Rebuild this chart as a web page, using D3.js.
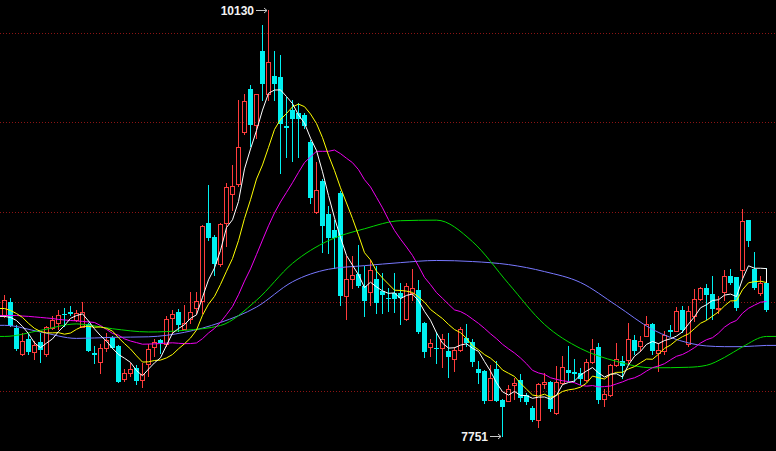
<!DOCTYPE html>
<html><head><meta charset="utf-8">
<script src="https://cdn.jsdelivr.net/npm/d3@7/dist/d3.min.js"></script>
<style>html,body{margin:0;padding:0;background:#000;overflow:hidden}svg{display:block}</style>
</head><body><svg id="c" width="776" height="451"></svg>
<script>
// ---- data ----
const opens  = [8423,8501,8355,8206,8293,8219,8275,8206,8351,8383,8433,8445,8397,8360,8377,8212,8163,8243,8299,8252,
8071,8104,8132,8063,8150,8249,8284,8262,8410,8445,8349,8405,8466,8503,8939,8861,8713,8939,9102,9158,
9446,9685,9486,9898,9657,9759,9752,9481,9570,9553,9542,9393,9000,9171,8991,8902,9109,8531,8629,8657,
8586,8555,8627,8562,8522,8550,8546,8405,8550,8564,8379,8249,8241,8243,8224,8182,8228,8299,8275,8123,
8113,7952,8127,7950,7946,8034,8061,7978,7904,7840,8043,8054,7878,8048,8117,8107,8102,8063,8163,8249,
7956,7978,8145,8169,8174,8286,8252,8308,8376,8212,8224,8340,8336,8456,8262,8419,8516,8577,8544,8460,
8553,8642,8638,8679,8954,8683,8550,8605];
const highs  = [8535,8518,8368,8323,8317,8280,8328,8364,8419,8456,8466,8475,8456,8497,8383,8252,8262,8327,8306,8256,
8127,8160,8145,8156,8262,8290,8290,8419,8456,8460,8484,8553,8553,8930,9152,8874,8941,9162,9264,9625,
9657,9709,9660,10043,10130,9900,9876,9644,9625,9607,9551,9403,9282,9184,9032,8958,9115,8757,8753,8818,
8698,8735,8698,8661,8579,8661,8605,8605,8683,8620,8384,8293,8330,8317,8323,8249,8358,8373,8290,8169,
8117,8145,8169,7956,8034,8076,8095,7993,7918,8045,8104,8056,8141,8197,8252,8178,8132,8178,8290,8271,
8011,8150,8271,8197,8383,8312,8308,8419,8383,8271,8336,8368,8473,8475,8475,8572,8583,8596,8646,8531,
8679,8683,8640,9017,8958,8776,8642,8689];
const lows   = [8412,8362,8228,8200,8206,8178,8162,8197,8345,8345,8364,8423,8391,8356,8223,8160,8104,8224,8239,8050,
8058,8085,8039,8026,8085,8197,8216,8252,8327,8336,8345,8383,8438,8438,8846,8651,8698,8813,9013,9147,
9436,9369,9414,9625,9625,9625,9219,9308,9286,9308,9470,9050,8995,8776,8772,8689,8484,8401,8577,8584,
8419,8484,8438,8438,8447,8442,8373,8400,8512,8328,8193,8197,8160,8138,8082,8113,8226,8252,8141,8045,
7933,7950,7944,7751,7944,7956,7946,7928,7835,7798,8017,7890,7872,8039,8058,8058,8039,8058,8160,7937,
7918,7972,8139,8076,8160,8206,8224,8306,8206,8113,8206,8308,8334,8329,8252,8391,8512,8401,8401,8438,
8512,8601,8456,8640,8809,8568,8535,8447];
const closes = [8512,8364,8234,8278,8219,8256,8230,8360,8397,8423,8425,8430,8438,8444,8224,8204,8243,8284,8243,8052,
8100,8127,8058,8095,8238,8277,8267,8405,8434,8369,8383,8444,8503,8924,8856,8713,8934,9140,9143,9366,
9622,9488,9657,9713,9835,9713,9492,9471,9517,9517,9481,9078,9125,8924,8856,8856,8531,8624,8651,8586,
8503,8679,8494,8540,8516,8516,8518,8586,8577,8330,8219,8271,8234,8290,8191,8228,8345,8271,8165,8104,
7946,8076,7946,7915,8011,8048,7965,7941,7839,8043,8054,7900,8054,8135,8102,8096,8067,8165,8234,7950,
7983,8145,8178,8141,8290,8224,8280,8373,8223,8228,8312,8329,8449,8340,8447,8516,8577,8535,8460,8466,
8646,8605,8466,8948,8837,8577,8605,8456];

// moving-average values at the left edge (their windows start before the visible range)
const ma5Head  = [8418,8412,8395,8362];
const ma10Head = [8462,8451,8434,8412,8379,8351,8334,8326,8326];
const ma20Head = [8423,8423,8423,8420,8418,8415,8412,8409,8406,8401,8398,8395,8393,8390,8387,8384,8367,8345,8323];
const ma5Tail  = 8605;

// long moving averages at these bars
const longIdx = [0,6,12,18,24,30,36,42,48,54,60,66,72,78,84,90,96,102,108,114,117,120,123,127];
const ma60    = [8306,8340,8376,8349,8331,8340,8367,8508,8714,8841,8907,8952,8955,8835,8601,8373,8239,8167,8131,8134,8145,8189,8248,8306];
const ma120   = [8368,8331,8295,8301,8304,8329,8384,8470,8611,8681,8701,8718,8730,8724,8707,8668,8607,8479,8345,8270,8253,8249,8249,8256];

const gridTicks = [8000,8500,9000,9500,10000];

// ---- drawing ----
const svg = d3.select("#c");
svg.append("rect").attr("width",776).attr("height",451).attr("fill","#000");

const n = closes.length;
const x = d3.scaleBand().domain(d3.range(n)).range([1.3, 1.3 + 6*n]);
const y = d3.scaleLinear().domain([7751,10130]).range([435.9, 9.6]);
const cx = i => Math.round(x(i) + x.bandwidth()/2);

// grid
svg.append("g").selectAll("line").data(gridTicks).join("line")
  .attr("x1",0).attr("x2",776)
  .attr("y1",d=>Math.round(y(d))+0.5).attr("y2",d=>Math.round(y(d))+0.5)
  .attr("stroke","#8c1414").attr("stroke-width",1).attr("stroke-dasharray","1,2");

const UP="#ff3c3c", DN="#00f0f0";
const bars = d3.range(n).map(i=>({i,o:opens[i],h:highs[i],l:lows[i],c:closes[i]}));
const gC = svg.append("g");
bars.forEach(b=>{
  const X = cx(b.i);
  const yo = Math.round(y(b.o)), yc = Math.round(y(b.c)), yh = Math.round(y(b.h)), yl = Math.round(y(b.l));
  if (b.c >= b.o) {
    const top = yc, bot = Math.max(yo, yc+1);
    if (yh < top) gC.append("line").attr("x1",X+0.5).attr("x2",X+0.5).attr("y1",yh).attr("y2",top).attr("stroke",UP);
    if (yl > bot) gC.append("line").attr("x1",X+0.5).attr("x2",X+0.5).attr("y1",bot+1).attr("y2",yl+1).attr("stroke",UP);
    gC.append("rect").attr("x",X-1.5).attr("y",top+0.5).attr("width",4).attr("height",bot-top)
      .attr("fill","none").attr("stroke",UP).attr("stroke-width",1);
  } else {
    gC.append("line").attr("x1",X+0.5).attr("x2",X+0.5).attr("y1",yh).attr("y2",yl+1).attr("stroke",DN);
    gC.append("rect").attr("x",X-2).attr("y",yo).attr("width",5).attr("height",Math.max(1,yc-yo)).attr("fill",DN);
  }
});

function movAvg(len, head){
  return closes.map((c,i)=> i < len-1 ? head[i] : d3.mean(closes.slice(i-len+1, i+1)));
}
const ma5 = movAvg(5, ma5Head), ma10 = movAvg(10, ma10Head), ma20 = movAvg(20, ma20Head);

function drawSeries(pts, color, curve){
  const line = d3.line().x(d=>d[0]).y(d=>d[1]).curve(curve||d3.curveLinear);
  svg.append("path").attr("d", line(pts)).attr("fill","none").attr("stroke",color).attr("stroke-width",1);
}
function barPts(vals){
  const p = vals.map((v,i)=>[cx(i)+0.5, y(v)]);
  p.unshift([0, y(vals[0])]);
  return p;
}
function longPts(vals){
  const p = vals.map((v,k)=>[cx(longIdx[k])+0.5, y(v)]);
  p.unshift([0, y(vals[0])]);
  p.push([776, y(vals[vals.length-1])]);
  return p;
}
drawSeries(longPts(ma120), "#7878ff", d3.curveMonotoneX);
drawSeries(longPts(ma60), "#00d800", d3.curveMonotoneX);
drawSeries(barPts(ma20), "#f000f0");
drawSeries(barPts(ma10), "#ffff00");
const p5 = barPts(ma5);
p5.push([cx(n-1)+0.5, y(ma5Tail)]);
drawSeries(p5, "#ffffff");

// extreme labels
function extremeLabel(idx, val){
  const X = cx(idx), Y = Math.round(y(val))+0.5;
  svg.append("path")
    .attr("d",`M${X-12},${Y}L${X-1},${Y}M${X-4},${Y-2.5}L${X-1},${Y}L${X-4},${Y+2.5}`)
    .attr("stroke","#c8c8c8").attr("fill","none").attr("stroke-width",1);
  svg.append("text").attr("x",X-14).attr("y",Y).attr("dy","0.35em")
    .attr("text-anchor","end").attr("fill","#f2f2f2")
    .attr("font-family","'Liberation Sans', Arial, sans-serif").attr("font-weight","bold").attr("font-size","12px")
    .text(val);
}
const iMax = d3.maxIndex(highs), iMin = d3.minIndex(lows);
extremeLabel(iMax, highs[iMax]);
extremeLabel(iMin, lows[iMin]);
</script></body></html>
